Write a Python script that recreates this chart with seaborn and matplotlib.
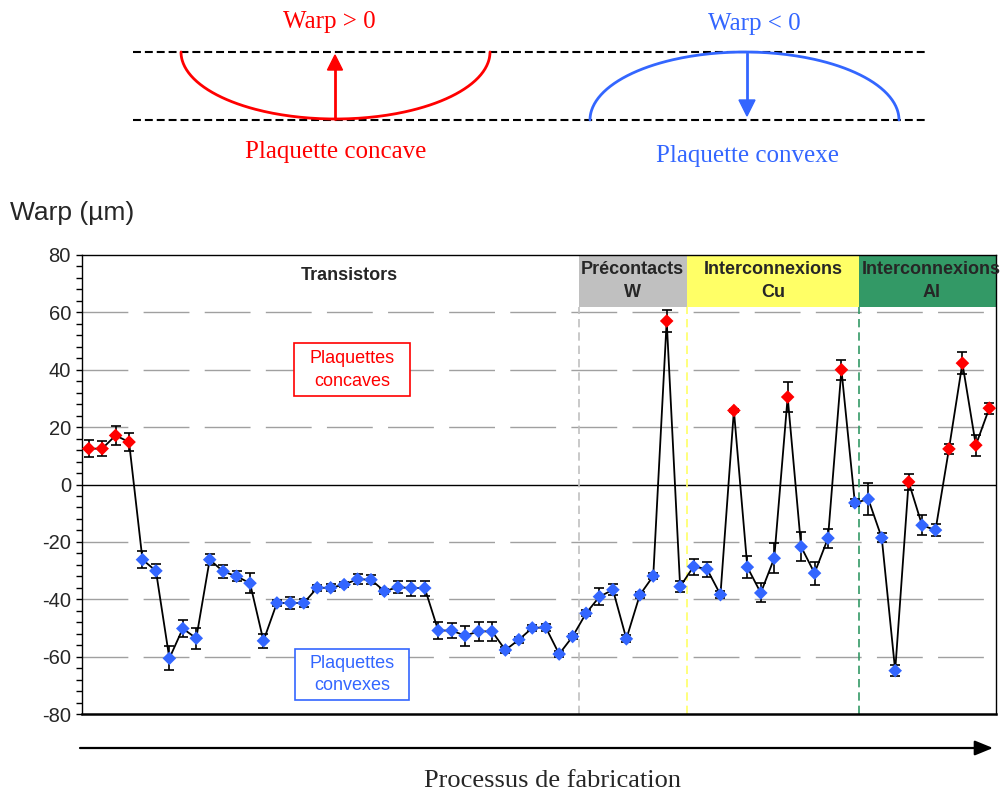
import numpy as np
import pandas as pd
import matplotlib
matplotlib.use("Agg")
import matplotlib.pyplot as plt
from matplotlib.patches import Rectangle, Polygon
import seaborn as sns

# Wafer warp measured after each fabrication step (µm) and its dispersion
warp = [12.5, 12.5, 17.1, 14.8, -26.2, -30.1, -60.6, -50.2, -53.6, -26.2,
        -30.3, -32.0, -34.4, -54.5, -41.3, -41.3, -41.3, -36.0, -36.0, -34.9,
        -33.0, -33.2, -37.2, -35.8, -36.1, -36.1, -50.9, -50.9, -52.7, -51.2,
        -51.2, -57.7, -54.1, -50.0, -49.8, -59.1, -53.0, -44.9, -39.1, -36.7,
        -53.8, -38.5, -31.9, 57.0, -35.6, -28.6, -29.5, -38.4, 25.8, -28.8,
        -37.8, -25.7, 30.5, -21.7, -30.9, -18.7, 40.0, -6.4, -5.1, -18.6,
        -64.9, 0.9, -14.2, -15.9, 12.4, 42.3, 13.7, 26.6]
warp_err = [2.9, 2.7, 3.4, 3.0, 2.9, 2.5, 4.2, 2.8, 3.6, 1.9,
            2.3, 1.8, 3.4, 2.4, 1.0, 2.1, 1.5, 1.0, 1.2, 1.0,
            1.7, 1.5, 0.8, 2.0, 2.6, 2.6, 2.8, 2.7, 3.5, 3.2,
            3.2, 1.0, 1.0, 1.0, 1.2, 1.2, 1.0, 1.0, 2.9, 1.9,
            1.2, 1.0, 1.2, 3.8, 1.9, 2.8, 2.6, 1.2, 0.5, 3.9,
            3.3, 5.3, 5.1, 5.1, 4.0, 3.3, 3.4, 1.2, 5.5, 1.6,
            2.0, 2.9, 3.5, 2.0, 1.7, 3.9, 3.7, 1.9]

# Process stages: labels, boundaries along the step axis, header colours
stage_labels = ["Précontacts\nW", "Interconnexions\nCu", "Interconnexions\nAl"]
stage_bounds = [36.45, 44.5, 57.3, 67.5]
stage_colors = ["#C0C0C0", "#FFFF66", "#339966"]
stage_text_shift = [0.0, 0.0, 0.3]

y_ticks = [-80, -60, -40, -20, 0, 20, 40, 60, 80]

RED = "#FF0000"
BLUE = "#3366FF"

sns.set_style("white")
plt.rcParams["font.family"] = ["Liberation Sans", "DejaVu Sans"]
plt.rcParams["axes.unicode_minus"] = False
SERIF = ["Liberation Serif", "DejaVu Serif"]

df = pd.DataFrame({"step": np.arange(len(warp)), "warp": warp, "err": warp_err})
df["forme"] = np.where(df["warp"] >= 0, "concave", "convexe")

fig = plt.figure(figsize=(10.05, 7.96), dpi=100)

# ---- schematic overlay in pixel coordinates ----
ov = fig.add_axes([0, 0, 1, 1], zorder=0)
ov.set_xlim(0, 1005)
ov.set_ylim(796, 0)
ov.axis("off")

dash = (0, (3.8, 1.9))
for yy in (52, 120):
    ov.plot([133, 925], [yy, yy], color="black", lw=1.5, linestyle=dash)

t = np.linspace(0, np.pi, 200)
# concave wafer
ov.plot(335.5 + 154.5 * np.cos(t), 52 + 67 * np.sin(t), color=RED, lw=2)
ov.plot([335, 335], [119, 68], color=RED, lw=2)
ov.add_patch(Polygon([[335, 55], [327.5, 70], [342.5, 70]], closed=True, color=RED))
ov.text(329, 22, "Warp > 0", color=RED, fontsize=18, family=SERIF, ha="center", va="center")
ov.text(336, 152, "Plaquette concave", color=RED, fontsize=18, family=SERIF, ha="center", va="center")
# convex wafer
ov.plot(744.5 + 154.5 * np.cos(t), 120 - 68 * np.sin(t), color=BLUE, lw=2)
ov.plot([747, 747], [53, 102], color=BLUE, lw=2)
ov.add_patch(Polygon([[747, 116], [739, 100], [755, 100]], closed=True, color=BLUE))
ov.text(754, 24, "Warp < 0", color=BLUE, fontsize=18, family=SERIF, ha="center", va="center")
ov.text(748, 156, "Plaquette convexe", color=BLUE, fontsize=18, family=SERIF, ha="center", va="center")

# axis title and process arrow
ov.text(10, 213, "Warp (µm)", fontsize=19, ha="left", va="center")
ov.annotate("", xy=(993, 748), xytext=(80, 748),
            arrowprops=dict(arrowstyle="-|>,head_length=1.1,head_width=0.45",
                            color="black", lw=1.6, shrinkA=0, shrinkB=0))
ov.text(552, 781, "Processus de fabrication", fontsize=19, family=SERIF,
        ha="center", va="center")

# ---- main chart ----
ax = fig.add_axes([82 / 1005, 1 - 714 / 796, (996 - 82) / 1005, (714 - 255) / 796], zorder=2)
ax.set_xlim(-0.5, 67.5)
ax.set_ylim(-80, 80)

for gy in [-60, -40, -20, 20, 40, 60]:
    ax.axhline(gy, color="#A0A0A0", lw=1, linestyle=(0, (33, 11)), zorder=1)
ax.axhline(0, color="black", lw=1, zorder=1)

# stage separators and header boxes
for i, lab in enumerate(stage_labels):
    x0, x1 = stage_bounds[i], stage_bounds[i + 1]
    ax.plot([x0, x0], [-80, 62], color=stage_colors[i], lw=1.2,
            linestyle=(0, (5, 3)), zorder=1)
    ax.add_patch(Rectangle((x0, 61.7), x1 - x0, 18.3, facecolor=stage_colors[i],
                           edgecolor="none", zorder=2, clip_on=False))
    ax.text((x0 + x1) / 2 + stage_text_shift[i], 71.0, lab, ha="center", va="center",
            fontsize=13, fontweight="bold", linespacing=1.45, zorder=3, clip_on=False)
ax.text(19.4, 72.9, "Transistors", ha="center", va="center", fontsize=13,
        fontweight="bold", zorder=3)

# labelled boxes for the two wafer shapes
ax.add_patch(Rectangle((15.28, 30.7), 8.64, 18.5, facecolor="white", edgecolor=RED,
                       lw=1.2, zorder=2))
ax.text(19.6, 39.9, "Plaquettes\nconcaves", color=RED, ha="center", va="center",
        fontsize=13, linespacing=1.4, zorder=3)
ax.add_patch(Rectangle((15.35, -75.0), 8.5, 17.8, facecolor="white", edgecolor=BLUE,
                       lw=1.2, zorder=2))
ax.text(19.6, -66.1, "Plaquettes\nconvexes", color=BLUE, ha="center", va="center",
        fontsize=13, linespacing=1.4, zorder=3)

# data
ax.errorbar(df["step"], df["warp"], yerr=df["err"], fmt="none", ecolor="black",
            elinewidth=1.2, capsize=3.8, capthick=1.2, zorder=4)
sns.lineplot(data=df, x="step", y="warp", color="black", lw=1.3, ax=ax,
             zorder=4, legend=False)
sns.scatterplot(data=df, x="step", y="warp", hue="forme",
                palette={"concave": RED, "convexe": BLUE}, marker="D", s=48,
                edgecolor="none", ax=ax, zorder=6, legend=False)

ax.set_xlabel("")
ax.set_ylabel("")
ax.set_xticks([])
ax.set_yticks(y_ticks)
ax.set_yticks(np.arange(-80, 81, 4), minor=True)
ax.tick_params(axis="y", which="both", direction="out", length=4, width=1,
               color="black", left=True, labelsize=14.5, pad=4)
for side in ["top", "left", "right", "bottom"]:
    ax.spines[side].set_color("black")
    ax.spines[side].set_linewidth(1)
ax.spines["bottom"].set_linewidth(1.8)

fig.savefig("out.png", dpi=100)
